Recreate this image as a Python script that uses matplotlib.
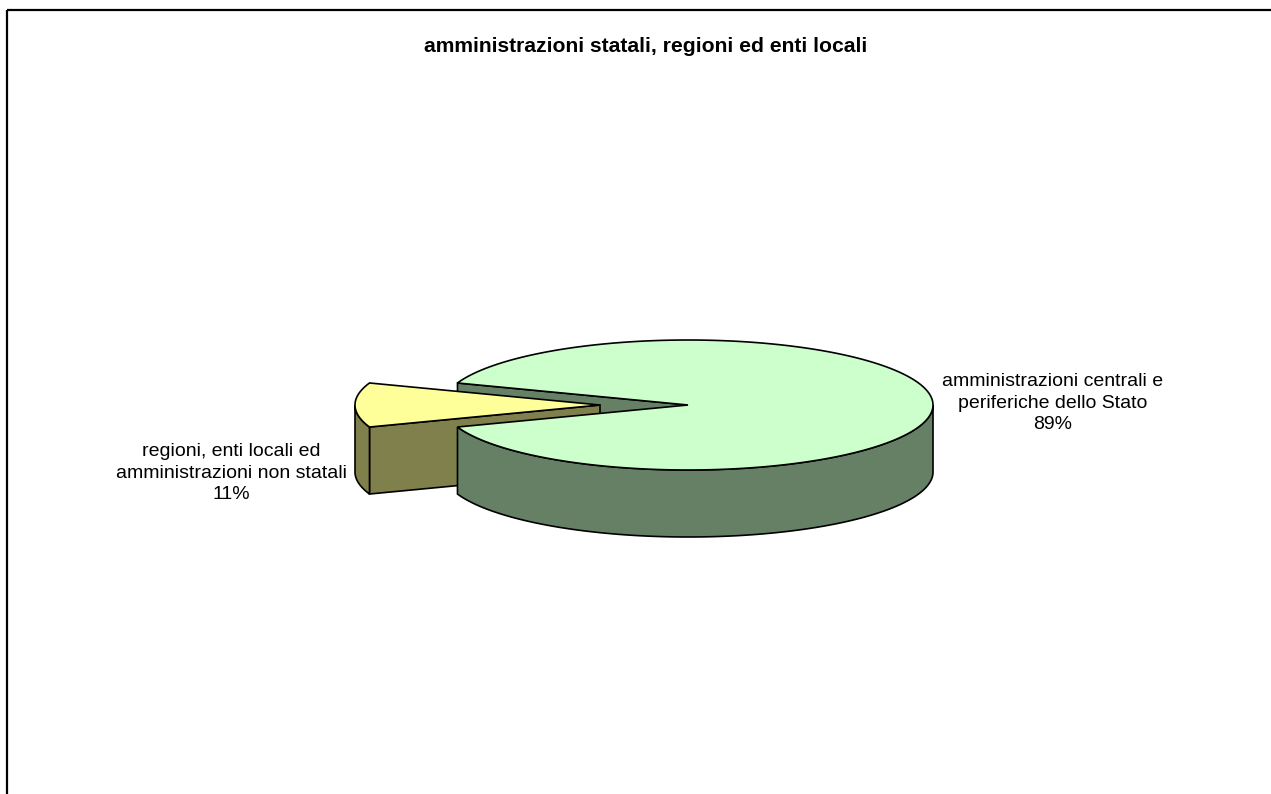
import numpy as np
import matplotlib
matplotlib.use('Agg')
from matplotlib import pyplot as plt
from matplotlib.patches import Polygon, Rectangle

# data
title = 'amministrazioni statali, regioni ed enti locali'
labels = ['amministrazioni centrali e\nperiferiche dello Stato',
          'regioni, enti locali ed\namministrazioni non statali']
shares = [89, 11]
top_colors = ['#CCFFCC', '#FFFF99']
side_colors = ['#668066', '#80804D']

# 3d pie geometry in pixel units
cx, cy = 688, 405
a, b = 245, 65
depth = 67
explode = 88.0 / a

fig = plt.figure(figsize=(12.71, 7.94), dpi=100)
ax = fig.add_axes([0, 0, 1, 1])
ax.set_xlim(0, 1271)
ax.set_ylim(794, 0)
ax.axis('off')


def pt(x0, y0, t):
    r = np.radians(t)
    return x0 + a * np.cos(r), y0 + b * np.sin(r)


def arc(x0, y0, t1, t2, n=200):
    t = np.linspace(t1, t2, n)
    x, y = pt(x0, y0, t)
    return np.column_stack([x, y])


def top(x0, y0, t1, t2, col):
    pts = np.vstack([[x0, y0], arc(x0, y0, t1, t2)])
    ax.add_patch(Polygon(pts, closed=True, fc=col, ec='black', lw=1.2, joinstyle='miter'))


def side(x0, y0, t1, t2, col):
    up = arc(x0, y0, t1, t2)
    down = up[::-1] + [0, depth]
    ax.add_patch(Polygon(np.vstack([up, down]), closed=True, fc=col, ec='black', lw=1.2))


def face(x0, y0, t, col):
    x1, y1 = pt(x0, y0, t)
    pts = [[x0, y0], [x1, y1], [x1, y1 + depth], [x0, y0 + depth]]
    ax.add_patch(Polygon(pts, closed=True, fc=col, ec='black', lw=1.2, joinstyle='miter'))


total = float(sum(shares))
span_small = 360 * shares[1] / total
mid = 180.0
y1_t, y2_t = mid - span_small / 2, mid + span_small / 2   # small slice
g1_t, g2_t = y2_t, y1_t + 360                              # big slice

ox, oy = explode * a * np.cos(np.radians(mid)), explode * b * np.sin(np.radians(mid))
sx, sy = cx + ox, cy + oy

# back to front
face(cx, cy, g1_t, side_colors[0])
face(sx, sy, y1_t, side_colors[1])
side(sx, sy, y1_t, 180, side_colors[1])
top(sx, sy, y1_t, y2_t, top_colors[1])
side(cx, cy, 360, g2_t, side_colors[0])
top(cx, cy, g1_t, g2_t, top_colors[0])

# labels
pct = [f'{v / total * 100:.0f}%' for v in shares]
ax.text(1053, 403, labels[0] + '\n' + pct[0], ha='center', va='center',
        multialignment='center', fontsize=14, family='Liberation Sans', linespacing=1.36)
ax.text(231, 473, labels[1] + '\n' + pct[1], ha='center', va='center',
        multialignment='center', fontsize=14, family='Liberation Sans', linespacing=1.36)

ax.text(646, 47, title, ha='center', va='center', fontsize=15.2,
        fontweight='bold', family='Liberation Sans')

# chart frame (right and bottom lie outside the picture)
ax.add_patch(Rectangle((7, 10), 1400, 900, fill=False, ec='black', lw=1.6))

fig.savefig('out.png', dpi=100)
